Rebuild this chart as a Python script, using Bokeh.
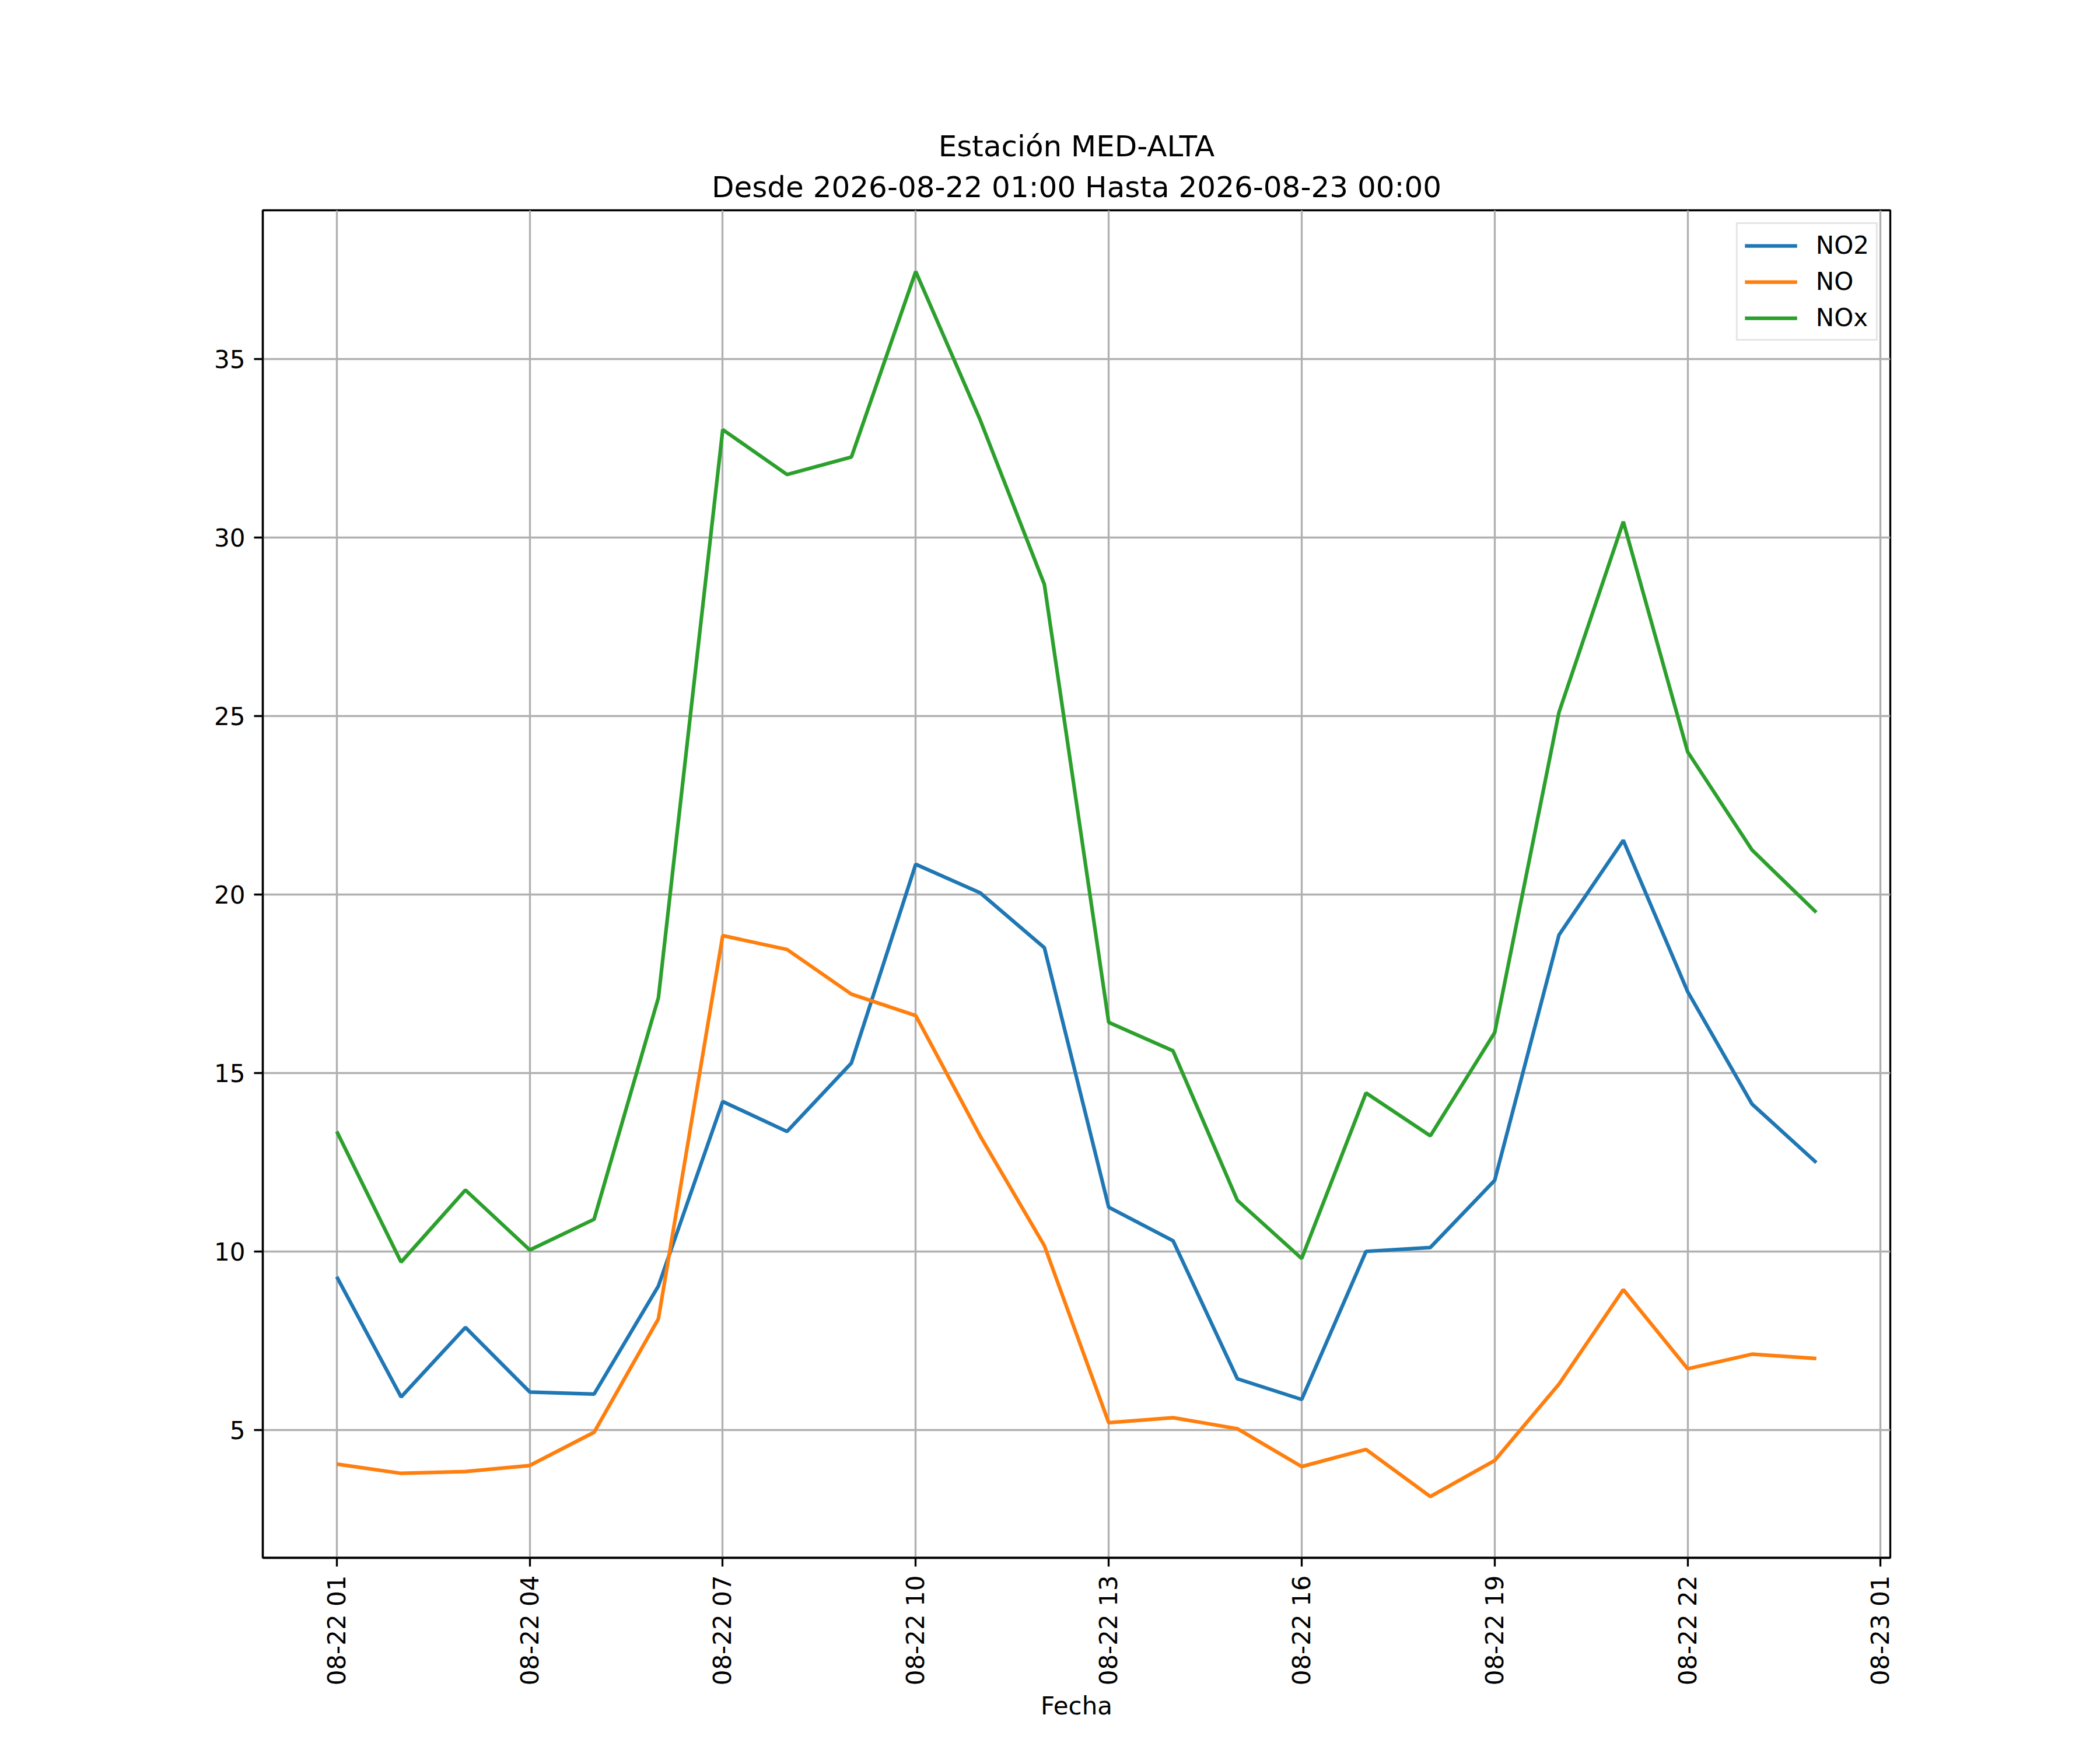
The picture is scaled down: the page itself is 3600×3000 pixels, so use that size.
import datetime

from bokeh.plotting import figure
from bokeh.embed import file_html
from bokeh.resources import INLINE
from bokeh.models import (
    ColumnDataSource,
    DatetimeTickFormatter,
    FixedTicker,
    Legend,
    LegendItem,
    Range1d,
    SingleIntervalTicker,
    Title,
)

station = "MED-ALTA"
start = datetime.datetime(2026, 8, 22, 1, 0)
hours = [start + datetime.timedelta(hours=h) for h in range(24)]

no2 = [9.29, 5.92, 7.87, 6.06, 6.00, 9.03, 14.20, 13.36, 15.28, 20.85, 20.05, 18.51,
       11.24, 10.30, 6.43, 5.85, 10.00, 10.11, 11.99, 18.87, 21.52, 17.28, 14.13, 12.49]
no = [4.04, 3.78, 3.83, 4.00, 4.93, 8.11, 18.85, 18.46, 17.21, 16.61, 13.24, 10.16,
      5.20, 5.34, 5.03, 3.97, 4.45, 3.13, 4.14, 6.28, 8.93, 6.71, 7.12, 7.00]
nox = [13.36, 9.70, 11.72, 10.04, 10.90, 17.11, 33.03, 31.77, 32.26, 37.46, 33.31, 28.69,
       16.42, 15.62, 11.43, 9.80, 14.44, 13.24, 16.13, 25.11, 30.45, 24.00, 21.25, 19.50]

series = [("NO2", no2, "#1f77b4"), ("NO", no, "#ff7f0e"), ("NOx", nox, "#2ca02c")]

src = ColumnDataSource(data=dict(fecha=hours, NO2=no2, NO=no, NOx=nox))

FONT = "DejaVu Sans"
PT = 300 / 72  # matplotlib points -> pixels at 300 dpi

# 5 % margins like matplotlib autoscale
t0 = hours[0].timestamp() * 1000
t1 = hours[-1].timestamp() * 1000
dx = (t1 - t0) * 0.05
lo = min(min(s) for _, s, _ in series)
hi = max(max(s) for _, s, _ in series)
dy = (hi - lo) * 0.05

p = figure(
    width=3584,
    height=2984,
    x_axis_type="datetime",
    x_range=Range1d(t0 - dx, t1 + dx),
    y_range=Range1d(lo - dy, hi + dy),
    output_backend="svg",
    toolbar_location=None,
    min_border_left=450,
    min_border_right=344,
    min_border_top=360,
    min_border_bottom=314,
    x_axis_label="Fecha",
)
p.background_fill_color = "white"
p.border_fill_color = "white"
p.outline_line_color = "black"
p.outline_line_width = 0.8 * PT

# two title lines, the one added last sits on top
p.add_layout(Title(text="Desde 2026-08-22 01:00 Hasta 2026-08-23 00:00", align="center",
                   text_font=FONT, text_font_size="50px", text_font_style="normal",
                   text_color="black", standoff=21), "above")
p.add_layout(Title(text="Estación " + station, align="center",
                   text_font=FONT, text_font_size="50px", text_font_style="normal",
                   text_color="black", standoff=0), "above")

ticks = [t0 + k * 3 * 3600 * 1000 for k in range(9)]
p.xaxis.ticker = FixedTicker(ticks=ticks)
fmt = "%m-%d %H"
p.xaxis.formatter = DatetimeTickFormatter(
    minutes=fmt, hourmin=fmt, hours=fmt, days=fmt, months=fmt, years=fmt
)
p.xaxis.major_label_orientation = 3.14159265 / 2
p.yaxis.ticker = SingleIntervalTicker(interval=5)

for ax in (p.xaxis, p.yaxis):
    ax.axis_line_color = "black"
    ax.axis_line_width = 0.8 * PT
    ax.major_tick_line_color = "black"
    ax.major_tick_line_width = 0.8 * PT
    ax.major_tick_out = 15
    ax.major_tick_in = 0
    ax.minor_tick_line_color = None
    ax.major_label_standoff = 15
    ax.major_label_text_font = FONT
    ax.major_label_text_font_size = "42px"
    ax.major_label_text_color = "black"
    ax.axis_label_text_font = FONT
    ax.axis_label_text_font_size = "42px"
    ax.axis_label_text_font_style = "normal"
    ax.axis_label_text_color = "black"
    ax.axis_label_standoff = 8

p.xgrid.ticker = FixedTicker(ticks=ticks)
for g in (p.xgrid, p.ygrid):
    g.grid_line_color = "#b0b0b0"
    g.grid_line_width = 0.8 * PT

items = []
for name, _, color in series:
    r = p.line("fecha", name, source=src, line_color=color, line_width=1.5 * PT)
    items.append(LegendItem(label=name, renderers=[r]))

legend = Legend(
    items=items,
    location="top_right",
    margin=21,
    padding=12,
    spacing=13,
    glyph_width=90,
    glyph_height=42,
    label_height=42,
    label_standoff=32,
    label_text_font=FONT,
    label_text_font_size="42px",
    label_text_color="black",
    border_line_color="#cccccc",
    border_line_width=0.8 * PT,
    background_fill_color="white",
    background_fill_alpha=0.8,
)
p.add_layout(legend, "center")

open("out.html", "w").write(file_html(p, INLINE))
